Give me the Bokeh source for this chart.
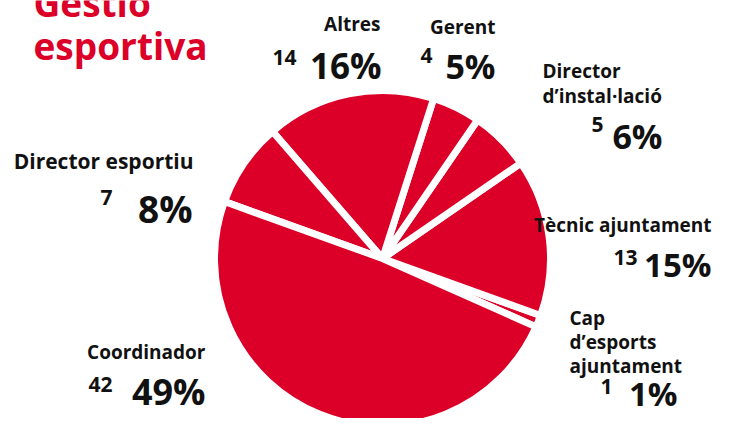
import numpy as np
import pandas as pd
from bokeh.plotting import figure
from bokeh.models import Range1d, ColumnDataSource
from bokeh.core.properties import value
from bokeh.embed import file_html
from bokeh.resources import INLINE

# ---- data ----
categories = ["Cap d’esports ajuntament", "Tècnic ajuntament", "Director d’instal·lació",
              "Gerent", "Altres", "Director esportiu", "Coordinador"]
counts = [1, 13, 5, 4, 14, 7, 42]
percent_labels = ["1%", "15%", "6%", "5%", "16%", "8%", "49%"]
name_lines = [["Cap", "d’esports", "ajuntament"], ["Tècnic ajuntament"],
              ["Director", "d’instal·lació"], ["Gerent"], ["Altres"],
              ["Director esportiu"], ["Coordinador"]]
title_lines = ["Gestió", "esportiva"]

# ---- layout / style ----
W, H = 713, 418
PAGE_H = 434
RED = "#DC0028"
INK = "#111111"
FONT = value("Open Sans")

def Y(py):
    return PAGE_H - py

cx, cy, r = 382, Y(266), 168
start_deg = -24.0

# label positions (picture pixels):
# name (x, first baseline, line step, align, size), count (right x, baseline), pct (right x, baseline, size)
label_layout = {
    0: dict(name=(569, 325, 24, "left", 19), count=(612, 394), pct=(677, 401, 33)),
    1: dict(name=(711, 232, 25, "right", 19), count=(637, 265), pct=(711, 272, 33)),
    2: dict(name=(542, 78, 25, "left", 19), count=(603, 132), pct=(662, 143, 34)),
    3: dict(name=(495, 34, 25, "right", 19), count=(432, 63), pct=(495, 73, 34)),
    4: dict(name=(380, 31, 25, "right", 19), count=(296, 65), pct=(381, 73, 35)),
    5: dict(name=(193, 168, 25, "right", 21), count=(112, 205), pct=(192, 216, 37)),
    6: dict(name=(205, 359, 25, "right", 19), count=(112, 392), pct=(205, 399, 36)),
}

df = pd.DataFrame({"category": categories, "count": counts})
ang = np.array(df["count"], dtype=float) / df["count"].sum() * 2 * np.pi
ends = np.cumsum(ang) + np.deg2rad(start_deg)
df["start"] = ends - ang
df["end"] = ends
df["x"] = cx
df["y"] = cy

p = figure(width=W, height=H, output_backend="svg", toolbar_location=None,
           x_range=Range1d(0, W), y_range=Range1d(PAGE_H - 8 - H, PAGE_H - 8),
           x_axis_type=None, y_axis_type=None, min_border=0)
p.grid.visible = False
p.outline_line_color = None
p.background_fill_color = "white"
p.border_fill_color = "white"

p.wedge(x="x", y="y", radius=r, start_angle="start", end_angle="end",
        source=ColumnDataSource(df), fill_color=RED, line_color="white", line_width=7)

name_rows, count_rows, pct_rows = [], [], []
for i in range(len(categories)):
    lay = label_layout[i]
    nx, ny, step, al, fs = lay["name"]
    for k, line in enumerate(name_lines[i]):
        name_rows.append(dict(x=nx, y=Y(ny + k * step), t=line, a=al, fs=f"{fs}px"))
    count_rows.append(dict(x=lay["count"][0], y=Y(lay["count"][1]), t=str(counts[i])))
    pct_rows.append(dict(x=lay["pct"][0], y=Y(lay["pct"][1]), t=percent_labels[i],
                         fs=f"{lay['pct'][2]}px"))

nd = pd.DataFrame(name_rows)
for al in ["left", "right"]:
    sub = nd[nd["a"] == al].reset_index(drop=True)
    p.text(x="x", y="y", text="t", text_font_size="fs", source=ColumnDataSource(sub),
           text_font=FONT, text_font_style="bold",
           text_align=al, text_baseline="alphabetic", text_color=INK)

cd = pd.DataFrame(count_rows)
p.text(x=cd["x"], y=cd["y"], text=cd["t"], text_font=FONT, text_font_style="bold",
       text_font_size="21px", text_align="right", text_baseline="alphabetic", text_color=INK)

pdf = pd.DataFrame(pct_rows)
p.text(x="x", y="y", text="t", text_font_size="fs", source=ColumnDataSource(pdf),
       text_font=FONT, text_font_style="bold",
       text_align="right", text_baseline="alphabetic", text_color=INK)

p.text(x=[33, 33], y=[Y(10), Y(53)], text=title_lines, text_font=FONT, text_font_style="bold",
       text_font_size="37px", text_align="left", text_baseline="alphabetic", text_color=RED)

open("out.html", "w").write(file_html(p, INLINE))
